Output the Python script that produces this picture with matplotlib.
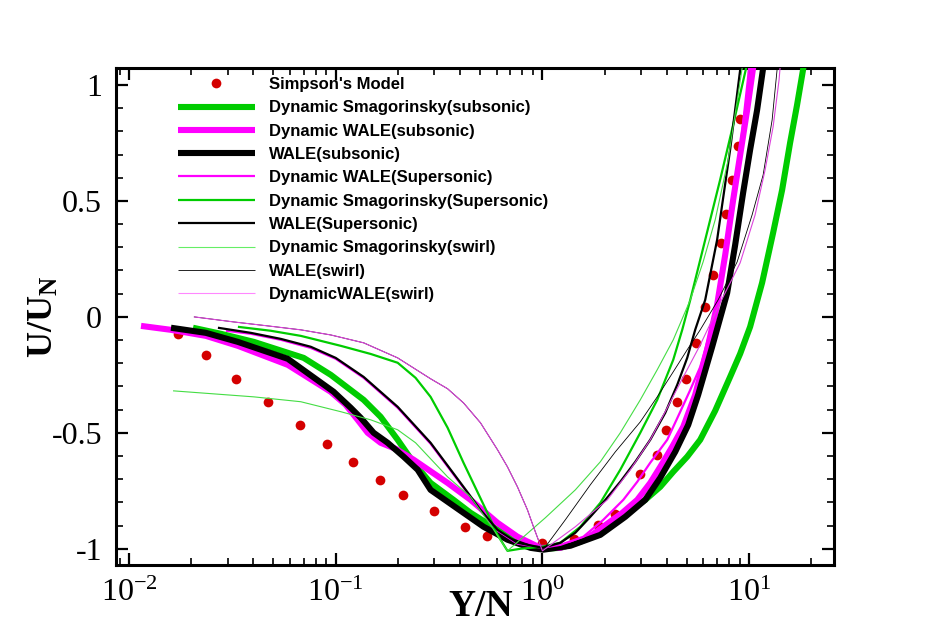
import matplotlib
matplotlib.use("Agg")
import matplotlib.pyplot as plt
from matplotlib.lines import Line2D
from matplotlib.ticker import FixedLocator, LogLocator, NullFormatter, FuncFormatter, MultipleLocator, LogFormatterMathtext

plt.rcParams['axes.unicode_minus'] = False
plt.rcParams['mathtext.fontset'] = 'custom'
plt.rcParams['mathtext.rm'] = 'Liberation Serif'
plt.rcParams['mathtext.it'] = 'Liberation Serif:italic'
plt.rcParams['mathtext.bf'] = 'Liberation Serif:bold'

# ---------------- data ----------------
simpson_x = [0.01718, 0.0236, 0.0331, 0.0469, 0.0673, 0.0912, 0.1208, 0.1637, 0.2123, 0.2974,
             0.4198, 0.5406, 0.735, 1.0, 1.417, 1.85, 2.235, 2.951, 3.566, 3.97,
             4.48, 4.96, 5.55, 6.15, 6.68, 7.35, 7.71, 8.25, 8.88, 9.08]
simpson_y = [-0.073, -0.165, -0.266, -0.368, -0.466, -0.549, -0.625, -0.704, -0.769, -0.838,
             -0.905, -0.944, -0.955, -0.974, -0.957, -0.898, -0.849, -0.678, -0.596, -0.488,
             -0.368, -0.270, -0.112, 0.043, 0.182, 0.320, 0.445, 0.590, 0.735, 0.852]

dsmag_sub_x = [0.0204, 0.0278, 0.0402, 0.0700, 0.0946, 0.1365, 0.1649, 0.1994, 0.2381, 0.2877,
               0.3715, 0.4490, 0.6062, 0.7571, 1.011, 1.222, 1.526, 1.906, 2.381, 3.145,
               3.715, 4.295, 5.017, 5.80, 6.85, 8.09, 9.05, 10.11, 11.556, 13.06,
               14.44, 15.78, 17.06, 18.23, 18.85]
dsmag_sub_y = [-0.047, -0.073, -0.108, -0.177, -0.250, -0.358, -0.431, -0.530, -0.629, -0.716,
               -0.789, -0.845, -0.918, -0.970, -1.000, -0.996, -0.970, -0.922, -0.866, -0.789,
               -0.733, -0.668, -0.603, -0.530, -0.405, -0.259, -0.159, -0.043, 0.147, 0.362,
               0.547, 0.750, 0.914, 1.065, 1.151]

dwale_sub_x = [0.01143, 0.01596, 0.02355, 0.03363, 0.05864, 0.09456, 0.1117, 0.1277, 0.1428, 0.1649,
               0.1949, 0.2381, 0.3477, 0.4490, 0.6062, 0.7571, 0.978, 1.222, 1.613, 2.061,
               2.435, 2.877, 3.324, 3.715, 4.246, 4.80, 5.483, 6.27, 7.00, 7.66,
               8.37, 9.05, 9.78, 10.45, 10.69]
dwale_sub_y = [-0.039, -0.056, -0.082, -0.125, -0.207, -0.323, -0.379, -0.444, -0.500, -0.543,
               -0.569, -0.616, -0.716, -0.789, -0.888, -0.948, -0.996, -0.996, -0.961, -0.892,
               -0.845, -0.789, -0.716, -0.647, -0.560, -0.474, -0.336, -0.142, 0.052, 0.267,
               0.504, 0.698, 0.892, 1.073, 1.172]

wale_sub_x = [0.01596, 0.02355, 0.03363, 0.05864, 0.0977, 0.1182, 0.1320, 0.1526, 0.1783, 0.2131,
              0.2490, 0.2877, 0.3215, 0.4151, 0.5188, 0.6776, 0.8750, 1.011, 1.366, 1.906,
              2.518, 3.145, 3.715, 4.389, 5.073, 5.67, 6.625, 7.83, 8.559, 9.35,
              10.11, 10.93, 11.69, 12.08]
wale_sub_y = [-0.047, -0.069, -0.108, -0.181, -0.323, -0.392, -0.435, -0.500, -0.543, -0.603,
              -0.659, -0.746, -0.776, -0.845, -0.905, -0.961, -0.996, -1.004, -0.987, -0.940,
              -0.862, -0.789, -0.694, -0.582, -0.466, -0.336, -0.129, 0.103, 0.310, 0.534,
              0.720, 0.892, 1.073, 1.172]

dwale_sup_x = [0.02942, 0.03885, 0.05423, 0.07574, 0.1, 0.1365, 0.1994, 0.2877, 0.4151, 0.5017,
               0.6062, 0.7571, 1.0, 1.222, 1.578, 1.971, 2.462, 2.877, 3.324, 4.017,
               4.643, 5.19, 5.80, 6.41, 7.00, 7.57, 8.09, 9.05, 10.0, 10.23]
dwale_sup_y = [-0.060, -0.073, -0.099, -0.134, -0.181, -0.263, -0.392, -0.547, -0.737, -0.836,
               -0.922, -0.978, -0.996, -0.983, -0.948, -0.875, -0.789, -0.711, -0.629, -0.530,
               -0.409, -0.315, -0.216, -0.078, 0.073, 0.246, 0.418, 0.720, 1.073, 1.172]

dsmag_sup_x = [0.03363, 0.04853, 0.06776, 0.1058, 0.1476, 0.1994, 0.2434, 0.2877, 0.3477, 0.4151,
               0.5420, 0.6062, 0.6776, 0.7829, 1.0, 1.222, 1.526, 1.906, 2.381, 2.974,
               3.593, 4.295, 4.746, 5.19, 6.13, 7.24, 8.37, 9.672, 9.89]
dsmag_sup_y = [-0.043, -0.060, -0.082, -0.125, -0.160, -0.198, -0.263, -0.345, -0.478, -0.629,
               -0.845, -0.940, -1.009, -1.000, -0.991, -0.974, -0.905, -0.802, -0.659, -0.500,
               -0.358, -0.185, -0.056, 0.073, 0.332, 0.591, 0.828, 1.073, 1.151]

wale_sup_x = [0.02692, 0.03885, 0.05423, 0.07574, 0.1, 0.1365, 0.1994, 0.2877, 0.4151, 0.5017,
              0.6062, 0.7571, 1.0, 1.222, 1.443, 1.706, 2.016, 2.381, 2.814, 3.324,
              3.928, 4.49, 5.017, 5.483, 6.13, 7.00, 8.09, 9.05, 9.35]
wale_sup_y = [-0.047, -0.069, -0.095, -0.129, -0.177, -0.259, -0.388, -0.543, -0.733, -0.832,
              -0.918, -0.974, -0.996, -0.974, -0.931, -0.862, -0.789, -0.711, -0.625, -0.530,
              -0.414, -0.293, -0.177, -0.056, 0.073, 0.332, 0.720, 1.065, 1.172]

dsmag_swirl_x = [0.01633, 0.04018, 0.06776, 0.1058, 0.1476, 0.1994, 0.2434, 0.2877, 0.3477, 0.4490,
                 0.5609, 0.6776, 1.034, 1.443, 1.906, 2.381, 2.974, 3.593, 4.295, 5.19,
                 5.99, 6.85, 7.917, 9.252, 9.459]
dsmag_swirl_y = [-0.319, -0.345, -0.366, -0.409, -0.444, -0.487, -0.543, -0.612, -0.690, -0.776,
                 -0.897, -1.009, -0.866, -0.746, -0.625, -0.500, -0.358, -0.228, -0.099, 0.073,
                 0.237, 0.418, 0.677, 1.073, 1.151]

swirl_left_x = [0.0206, 0.03214, 0.04691, 0.06776, 0.09456, 0.1365, 0.1994, 0.2877, 0.3477, 0.4151,
                0.5017, 0.6062, 0.6776, 0.7571, 0.8462, 0.9049, 1.0]
swirl_left_y = [0.0, -0.022, -0.039, -0.056, -0.078, -0.112, -0.177, -0.267, -0.310, -0.371,
                -0.457, -0.573, -0.647, -0.733, -0.832, -0.905, -1.009]

wale_swirl_x = swirl_left_x + [1.291, 1.706, 2.253, 2.974, 3.593, 4.295, 5.017, 5.80, 7.08, 8.75,
                               10.34, 11.69, 12.92, 13.65, 13.80]
wale_swirl_y = swirl_left_y + [-0.875, -0.724, -0.582, -0.453, -0.345, -0.237, -0.142, -0.056, 0.073, 0.237,
                               0.440, 0.612, 0.849, 1.065, 1.151]

dwale_swirl_x = swirl_left_x + [1.443, 2.061, 2.662, 3.324, 3.928, 4.643, 5.80, 7.24, 9.05, 10.69,
                                11.95, 13.06, 13.96, 14.28]
dwale_swirl_y = swirl_left_y + [-0.905, -0.789, -0.659, -0.530, -0.409, -0.284, -0.121, 0.060, 0.233, 0.440,
                                0.634, 0.819, 1.022, 1.129]

labels = ["Simpson's Model", "Dynamic Smagorinsky(subsonic)", "Dynamic WALE(subsonic)",
          "WALE(subsonic)", "Dynamic WALE(Supersonic)", "Dynamic Smagorinsky(Supersonic)",
          "WALE(Supersonic)", "Dynamic Smagorinsky(swirl)", "WALE(swirl)", "DynamicWALE(swirl)"]

x_ticks = [0.01, 0.1, 1, 10]
y_ticks = [-1, -0.5, 0, 0.5, 1]

# ---------------- figure ----------------
W, H = 942, 628
fig = plt.figure(figsize=(W / 100, H / 100), dpi=100)
ax = fig.add_axes([116 / W, 1 - 565 / H, (834 - 116) / W, (565 - 68) / H])

GREEN = '#00cc00'
MAG = '#ff00ff'
LGREEN = '#44dd44'
LMAG = '#ff88ff'
RED = '#d40000'

series = [
    (dsmag_sub_x, dsmag_sub_y, GREEN, 4.4, GREEN),
    (dwale_sub_x, dwale_sub_y, MAG, 4.4, MAG),
    (wale_sub_x, wale_sub_y, 'black', 4.4, 'black'),
    (dwale_sup_x, dwale_sup_y, MAG, 1.6, MAG),
    (dsmag_sup_x, dsmag_sup_y, GREEN, 1.6, GREEN),
    (wale_sup_x, wale_sup_y, 'black', 1.6, 'black'),
    (dsmag_swirl_x, dsmag_swirl_y, LGREEN, 0.8, '#66ee66'),
    (wale_swirl_x, wale_swirl_y, 'black', 0.6, 'black'),
    (dwale_swirl_x, dwale_swirl_y, '#dd44dd', 0.8, LMAG),
]

ax.plot(simpson_x, simpson_y, 'o', color=RED, markersize=7, markeredgewidth=0, zorder=2)
for xs, ys, c, lw, lc in series:
    ax.plot(xs, ys, '-', color=c, lw=lw, solid_capstyle='butt', solid_joinstyle='round', zorder=3)

ax.set_xscale('log')
ax.set_xlim(0.00865, 25.74)
ax.set_ylim(-1.07, 1.073)

ax.xaxis.set_major_locator(FixedLocator(x_ticks))
ax.xaxis.set_major_formatter(LogFormatterMathtext())
ax.xaxis.set_minor_locator(LogLocator(base=10, subs=[2, 3, 4, 5, 6, 7, 8, 9], numticks=20))
ax.xaxis.set_minor_formatter(NullFormatter())
ax.yaxis.set_major_locator(FixedLocator(y_ticks))
ax.yaxis.set_major_formatter(FuncFormatter(lambda v, p: f"{v:g}"))
ax.yaxis.set_minor_locator(MultipleLocator(0.1))

for s in ax.spines.values():
    s.set_linewidth(2.2)
ax.tick_params(which='both', direction='in', top=True, right=True, width=1.6)
ax.tick_params(which='major', length=8.5)
ax.tick_params(which='minor', length=5, width=1.2)
ax.tick_params(axis='y', which='major', pad=10)
ax.tick_params(axis='x', which='major', pad=10)
for lab in ax.get_xticklabels() + ax.get_yticklabels():
    lab.set_fontfamily('Liberation Serif')
    lab.set_fontsize(23)

fig.text(481 / W, 1 - 607 / H, 'Y/N', family='Liberation Serif', weight='bold',
         fontsize=27, ha='center', va='center')
fig.text(43 / W, 1 - 317 / H, r'$\mathbf{U/U_N}$', fontsize=26, rotation=90,
         ha='center', va='center')

# legend
handles = [Line2D([], [], ls='none', marker='o', color=RED, markersize=7, markeredgewidth=0)]
for xs, ys, c, lw, lc in series:
    handles.append(Line2D([], [], color=lc, lw=lw, solid_capstyle='butt'))
leg = ax.legend(handles, labels, loc='upper left', bbox_to_anchor=(178 / W, 1 - 77 / H),
                bbox_transform=fig.transFigure, frameon=False, handlelength=4.6,
                handletextpad=0.85, labelspacing=0.5, borderpad=0, borderaxespad=0,
                numpoints=1, prop={'family': 'Liberation Sans', 'weight': 'bold', 'size': 12})

fig.savefig('out.png', dpi=100)
